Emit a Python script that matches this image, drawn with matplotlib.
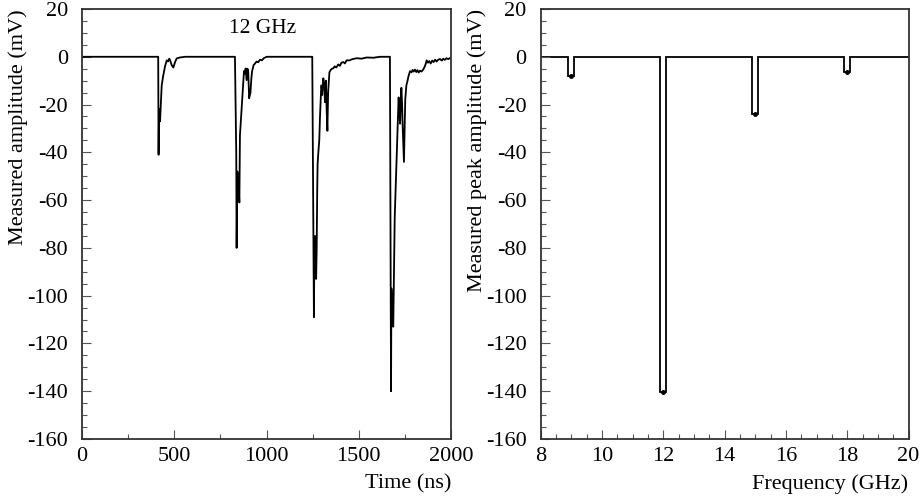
import numpy as np
import matplotlib.pyplot as plt
from matplotlib.ticker import MultipleLocator

plt.rcParams['font.family'] = ['Liberation Serif', 'DejaVu Serif']
plt.rcParams['axes.unicode_minus'] = False

# left panel: scope trace at 12 GHz (ns, mV)
pulse1_t = [405, 413, 415, 417, 420, 423, 427, 432, 440, 450, 459, 466, 473, 480, 486, 495, 504, 513, 530, 560]
pulse1_v = [0, 0, -41, -25, -22, -27, -20, -12, -8, -4, -1.5, -2, -0.8, -2, -3.5, -4.5, -2.3, -0.7, -0.3, 0]

pulse2_t = [829, 836, 838, 842, 847, 853, 856, 860, 865, 870, 874, 878, 882, 887, 892, 897, 901, 906, 913, 918, 922,
            930, 938, 946, 955, 965, 975, 985, 1001]
pulse2_v = [0, -40, -80, -48, -52, -61, -33, -28, -22, -16, -11, -6, -7, -4.9, -9.8, -5, -6.3, -17.4, -15, -9, -6,
            -3.5, -2.8, -2, -2.3, -1.2, -1.5, -0.6, 0]

pulse3_t = [1248, 1257, 1260, 1263, 1266, 1269, 1272, 1275, 1277, 1281, 1286, 1290, 1294, 1297, 1299, 1302, 1304, 1308,
            1312, 1315, 1317, 1320, 1322, 1326, 1330, 1334, 1341, 1348, 1355, 1362, 1370, 1378, 1389, 1398, 1406, 1416,
            1425, 1434, 1450, 1465, 1489, 1515, 1543, 1580, 1615]
pulse3_v = [0, -109, -76, -75, -82, -93, -80, -55, -45, -40, -35, -25, -18, -12, -12, -16, -13, -9, -11, -15, -19, -12,
            -10, -22, -31, -15, -6.5, -5.5, -5, -4.8, -4, -4.5, -3.2, -3.8, -2.5, -2.2, -2.8, -1.5, -1.5, -1.0, -0.6,
            -0.8, -0.3, -0.4, 0]

pulse4_t = [1669, 1675, 1677, 1680, 1684, 1687, 1691, 1695, 1698, 1700, 1705, 1709, 1713, 1716, 1720, 1724, 1728, 1731,
            1735, 1738, 1742, 1745, 1749, 1752, 1758, 1763, 1770, 1778, 1786, 1792, 1798, 1805, 1812, 1818, 1825, 1832,
            1840, 1848, 1856, 1862, 1868, 1875, 1882, 1890, 1898, 1906, 1914, 1922, 1930, 1940, 1950, 1958, 1966, 1976,
            1985, 1995, 2000]
pulse4_v = [0, -140, -97, -104, -112, -113, -90, -67, -60, -54, -45, -35, -25, -17, -22, -28, -18, -13, -20, -29, -38,
            -44, -30, -18, -12, -10.5, -8, -6, -6.5, -5.5, -6.2, -5.4, -6.4, -5.6, -6.6, -5.8, -6.2, -5.5, -4.4, -3.2,
            -1.5, -2.5, -1.8, -2.8, -1.6, -2.2, -1.2, -2.0, -1.3, -0.9, -1.6, -0.8, -1.3, -0.6, -1.0, -0.5, -0.7]

# right panel: peak amplitude vs frequency
freq_ghz = [9, 12, 15, 18]
peak_mv = [-8, -140.5, -24, -6.2]
bin_width = 0.2

t = [0] + pulse1_t + pulse2_t + pulse3_t + pulse4_t
v = [0] + pulse1_v + pulse2_v + pulse3_v + pulse4_v

# bins centred on each frequency point
edges = np.round(np.arange(8 - bin_width / 2, 20 + bin_width, bin_width), 3)
vals = np.zeros(len(edges) - 1)
for f, p in zip(freq_ghz, peak_mv):
    vals[int(np.floor((f - edges[0]) / bin_width))] = p

fig = plt.figure(figsize=(9.23, 5.01), dpi=100)
W, H = 923, 501
ax1 = fig.add_axes([82 / W, 1 - 439 / H, 369 / W, 430 / H])
ax2 = fig.add_axes([540.5 / W, 1 - 439 / H, 368 / W, 430 / H])

ax1.plot(t, v, color='black', lw=1.3)
ax1.set_xlim(0, 2000)
ax1.text(980, 12, '12 GHz', fontsize=15.5, ha='center', va='center')

ax2.stairs(vals, edges, color='black', lw=1.3, baseline=None)
ax2.plot(freq_ghz, peak_mv, 'o', color='black', ms=2.5)
ax2.set_xlim(8, 20)

for ax in (ax1, ax2):
    ax.set_ylim(-160, 20)
    ax.yaxis.set_major_locator(MultipleLocator(20))
    ax.yaxis.set_minor_locator(MultipleLocator(5))
    ax.tick_params(which='both', direction='in', top=False, right=False, labelsize=16, color='#555555')
    ax.tick_params(which='major', length=6.5, width=0.8)
    ax.tick_params(which='minor', length=3.5, width=0.8)
    ax.tick_params(axis='y', pad=10)
    ax.tick_params(axis='x', pad=6)
    for s in ax.spines.values():
        s.set_linewidth(1.3)
        s.set_color('#333333')

ax1.xaxis.set_major_locator(MultipleLocator(500))
ax1.xaxis.set_minor_locator(MultipleLocator(250))
ax2.xaxis.set_major_locator(MultipleLocator(2))
ax2.xaxis.set_minor_locator(MultipleLocator(0.5))

ax1.text(1.0, -0.081, 'Time (ns)', transform=ax1.transAxes, ha='right', va='top', fontsize=16)
ax2.text(1.0, -0.081, 'Frequency (GHz)', transform=ax2.transAxes, ha='right', va='top', fontsize=16)
ax1.text(-0.173, 1.0, 'Measured amplitude (mV)', transform=ax1.transAxes, rotation=90,
         ha='center', va='top', fontsize=16)
ax2.text(-0.1726, 1.0, 'Measured peak amplitude (mV)', transform=ax2.transAxes, rotation=90,
         ha='center', va='top', fontsize=16)

fig.savefig('out.png', dpi=100)
